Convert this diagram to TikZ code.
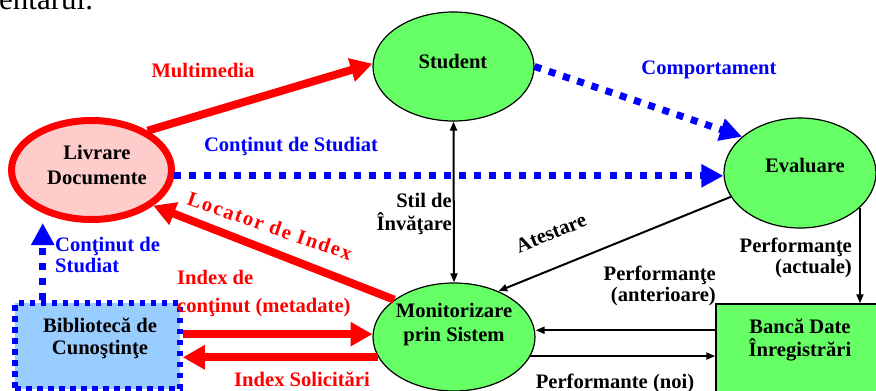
\documentclass[tikz,border=0pt]{standalone}
\usepackage{fontspec}
\setmainfont{Liberation Serif}
\usetikzlibrary{shapes.geometric,arrows.meta,calc}
\definecolor{grn}{RGB}{102,255,102}
\definecolor{pinkf}{RGB}{255,204,204}
\definecolor{libblue}{RGB}{153,204,255}
\begin{document}
\begin{tikzpicture}[x=1pt,y=-1pt,
  font=\fontsize{20.6}{23}\selectfont\bfseries,
  lbl/.style={inner sep=0pt},
  ell/.style={ellipse,draw=black,line width=1.2pt,fill=grn,inner sep=0pt},
  redarr/.style={draw=red,line width=8pt,-{Triangle[length=22pt,width=23pt]}},
  bluedot/.style={draw=blue,line width=7pt,dash pattern=on 7pt off 8pt,-{Triangle[length=22pt,width=22pt]}},
  blk/.style={draw=black,line width=2pt,-{Triangle[length=9pt,width=7pt]}},
  blkb/.style={draw=black,line width=2pt,{Triangle[length=9pt,width=7pt]}-{Triangle[length=9pt,width=7pt]}}
]
\useasboundingbox (0,0) rectangle (876,391);
% fragment of surrounding text
\node[lbl,anchor=base west,font=\fontsize{31}{31}\selectfont] (frag) at (-1,9) {entarul.};

% nodes
\node[ell,minimum width=161pt,minimum height=109pt] (stud) at (453.5,66.5) {};
\node[lbl] (tstud) at (453,61) {Student};
\node[ell,minimum width=152pt,minimum height=110pt] (eval) at (800,173) {};
\node[lbl] (teval) at (805,165) {Evaluare};
\node[ellipse,draw=red,line width=7pt,fill=pinkf,inner sep=0pt,minimum width=160pt,minimum height=99pt] (liv) at (91.5,170) {};
\node[lbl,align=center,font=\fontsize{20.6}{25}\selectfont\bfseries] (tliv) at (97,165) {Livrare\\Documente};
\node[ell,minimum width=162pt,minimum height=108pt] (mon) at (454,337) {};
\node[lbl,align=center,font=\fontsize{20.6}{24}\selectfont\bfseries] (tmon) at (454,325) {Monitorizare\\prin Sistem};
\node[rectangle,draw=blue,line width=5.5pt,dash pattern=on 5.5pt off 5.5pt,fill=libblue,inner sep=0pt,minimum width=165pt,minimum height=86pt] (bib) at (97.5,346) {};
\node[lbl,align=center,font=\fontsize{20.6}{22}\selectfont\bfseries] (tbib) at (100,338) {Bibliotecă de\\Cunoştinţe};
\node[rectangle,draw=black,line width=1.5pt,fill=grn,inner sep=0pt,minimum width=168pt,minimum height=100pt] (bank) at (800,354) {};
\node[lbl,align=center] (tbank) at (800,340) {Bancă Date\\Înregistrări};

% connectors
\draw[redarr] (liv.35) -- (stud.178);
\draw[bluedot] (stud.east) -- (eval.148);
\draw[bluedot] (liv.-4) -- (liv.-4 -| eval.west);
\draw[redarr] (mon.148) -- (liv.-30);
\draw[blkb] (stud.south) -- (mon.north);
\draw[blk] (eval.199) -- (mon.46);
\draw[blk] (eval.-30) -- (eval.-30 |- bank.north);
\draw[blk] ($(bank.north west)+(0,27)$) coordinate (ba) -- (ba -| mon.east);
\draw[blk] (mon.-14) -- (mon.-14 -| bank.west);
\draw[redarr] (mon.178 -| bib.east) -- (mon.178);
\draw[redarr] (mon.195) -- (mon.195 -| bib.east);
\draw[bluedot] ($(bib.north west)+(30.5,0)$) coordinate (bq) -- (bq |- liv.south);

% labels
\node[lbl,red] (lmm) at (203,70) {Multimedia};
\node[lbl,blue] (lcomp) at (709,70) {Comportament};
\node[lbl,blue] (lcont) at (291,146) {Conţinut de Studiat};
\node[lbl,red,rotate=-19,font=\fontsize{20.6}{23}\selectfont\bfseries\addfontfeature{LetterSpace=8}] (lloc) at (270,226) {Locator de Index};
\node[lbl,align=right,anchor=east] (lstil) at (452,214) {Stil de\\Învăţare};
\node[lbl,rotate=22] (late) at (551,233) {Atestare};
\node[lbl,align=right,anchor=east,font=\fontsize{20.6}{21}\selectfont\bfseries] (lpa) at (852,258) {Performanţe\\(actuale)};
\node[lbl,align=right,anchor=east,font=\fontsize{20.6}{21}\selectfont\bfseries] (lpan) at (716,286) {Performanţe\\(anterioare)};
\node[lbl] (lpn) at (615,383) {Performante (noi)};
\node[lbl,red,anchor=west] (lix1) at (177,277) {Index de};
\node[lbl,red,anchor=west] (lix2) at (177,308) {conţinut (metadate)};
\node[lbl,red] (lsol) at (302,379) {Index Solicitări};
\node[lbl,blue,align=left,anchor=west,font=\fontsize{20.6}{21}\selectfont\bfseries] (lcs) at (55,255) {Conţinut de\\Studiat};
\end{tikzpicture}
\end{document}
